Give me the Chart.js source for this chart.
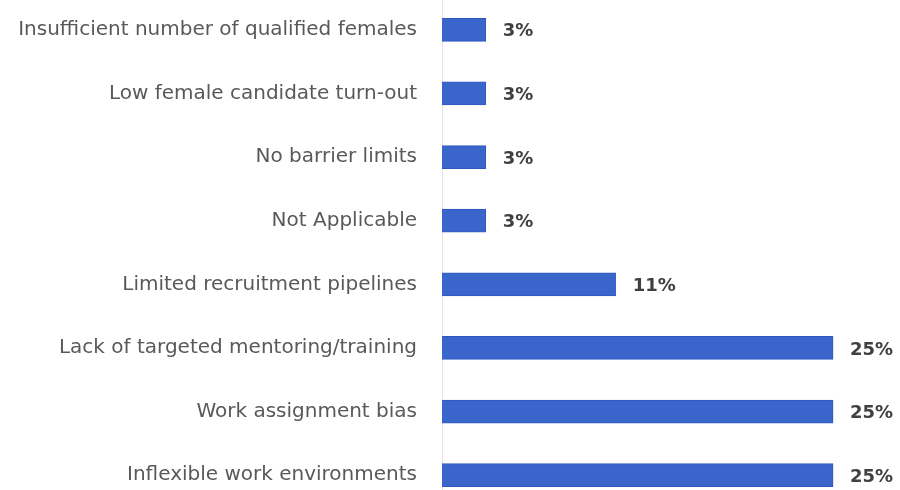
<!DOCTYPE html>
<html>
<head>
<meta charset="utf-8">
<script src="https://cdn.jsdelivr.net/npm/chart.js@4.4.0/dist/chart.umd.min.js"></script>
<style>
  html, body { margin: 0; padding: 0; background: #fff; overflow: hidden; width: 900px; height: 490px; }
  #barChart { position: absolute; left: 0; top: -31px; }
</style>
</head>
<body>
<canvas id="barChart" width="900" height="567"></canvas>
<script>
// datos
const categorias = [
    'Insufficient number of qualified females',
    'Low female candidate turn-out',
    'No barrier limits',
    'Not Applicable',
    'Limited recruitment pipelines',
    'Lack of targeted mentoring/training',
    'Work assignment bias',
    'Inflexible work environments'
];
const porcentajes = [2.8, 2.8, 2.8, 2.8, 11.1, 25, 25, 25];
const etiquetas = ['3%', '3%', '3%', '3%', '11%', '25%', '25%', '25%'];

// etiquetas de valor al final de cada barra
const pluginEtiquetas = {
    id: 'etiquetasValor',
    afterDatasetsDraw(chart) {
        const ctx = chart.ctx;
        const meta = chart.getDatasetMeta(0);
        ctx.save();
        ctx.font = 'bold 18px "DejaVu Sans", sans-serif';
        ctx.fillStyle = '#404040';
        ctx.textAlign = 'left';
        ctx.textBaseline = 'middle';
        meta.data.forEach((bar, i) => {
            ctx.fillText(etiquetas[i], bar.x + 17, bar.y + 2);
        });
        ctx.restore();
    }
};

const ctx = document.getElementById('barChart').getContext('2d');
window.graficoBarras = new Chart(ctx, {
    type: 'bar',
    data: {
        labels: categorias,
        datasets: [{
            data: porcentajes,
            backgroundColor: '#3a66cc',
            borderColor: '#2f58bd',
            borderWidth: 1,
            barThickness: 23
        }]
    },
    options: {
        indexAxis: 'y',
        responsive: false,
        animation: false,
        layout: { padding: { left: 0, right: 20, top: 0, bottom: 0 } },
        plugins: {
            legend: { display: false },
            tooltip: { enabled: false }
        },
        scales: {
            x: {
                display: false,
                min: 0,
                max: 28
            },
            y: {
                afterFit(scale) { scale.width = 442; },
                grid: { display: false },
                border: { display: true, color: '#e3e3e3', width: 1 },
                ticks: {
                    color: '#595959',
                    padding: 17,
                    font: { family: '"DejaVu Sans", sans-serif', size: 20 }
                }
            }
        }
    },
    plugins: [pluginEtiquetas]
});
</script>
</body>
</html>
